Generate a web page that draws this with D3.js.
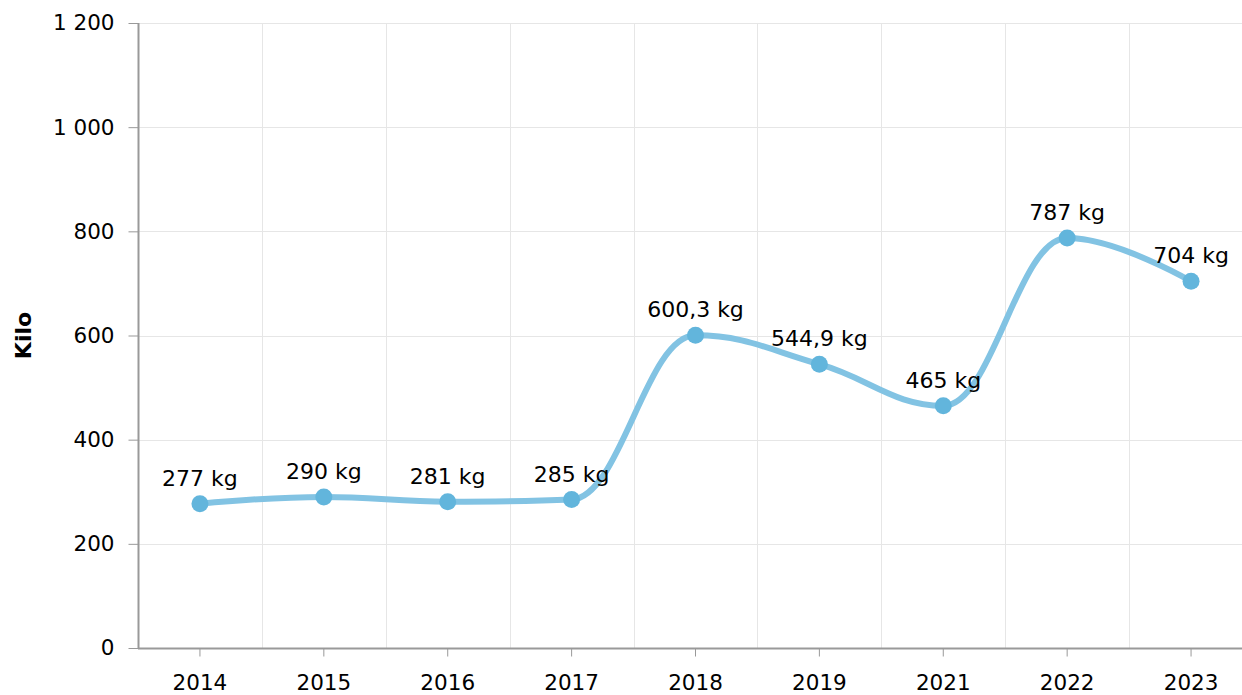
<!DOCTYPE html>
<html>
<head>
<meta charset="utf-8">
<script src="https://cdn.jsdelivr.net/npm/d3@7"></script>
<style>
  body { margin: 0; background: #fff; }
  svg { display: block; font-family: "DejaVu Sans", Verdana, sans-serif; }
</style>
</head>
<body>
<div id="chart"></div>
<script>
"use strict";

var years = ["2014", "2015", "2016", "2017", "2018", "2019", "2021", "2022", "2023"];
var kilos = [277, 290, 281, 285, 600.3, 544.9, 465, 787, 704];
var yTicks = [0, 200, 400, 600, 800, 1000, 1200];

var width = 1242,
    height = 695,
    plotLeft = 138, plotTop = 23, plotBottom = 648, plotRight = 1253;

var x = d3.scaleBand().domain(years).range([plotLeft, plotRight]),
    y = d3.scaleLinear().domain([0, 1200]).range([plotBottom, plotTop]);

var fmtTick = function(v) { return d3.format(",")(v).replace(/,/g, " "); };
var fmtLabel = function(v) { return String(v).replace(".", ",") + " kg"; };

var svg = d3.select("#chart").append("svg")
    .attr("width", width)
    .attr("height", height);

// grid
svg.append("g").selectAll("line")
    .data(yTicks)
  .enter().append("line")
    .attr("x1", plotLeft).attr("x2", width)
    .attr("y1", function(d) { return Math.round(y(d)) + 0.5; })
    .attr("y2", function(d) { return Math.round(y(d)) + 0.5; })
    .style("stroke", "#e6e6e6");

svg.append("g").selectAll("line")
    .data(years.slice(1))
  .enter().append("line")
    .attr("x1", function(d) { return Math.round(x(d)) + 0.5; })
    .attr("x2", function(d) { return Math.round(x(d)) + 0.5; })
    .attr("y1", plotTop).attr("y2", plotBottom)
    .style("stroke", "#e6e6e6");

// axes
var yAxis = svg.append("g")
    .attr("transform", "translate(" + (plotLeft + 0.5) + ",0)")
    .call(d3.axisLeft(y).tickValues(yTicks).tickFormat(fmtTick).tickSize(10).tickPadding(14));
yAxis.select(".domain").attr("d", "M0," + plotTop + "V" + plotBottom).style("stroke", "#999").style("stroke-width", 2);
yAxis.selectAll(".tick line").style("stroke", "#999");
yAxis.selectAll("text").style("font-size", "21.5px").style("fill", "#000");
yAxis.attr("font-family", null);

var xAxis = svg.append("g")
    .attr("transform", "translate(0," + (plotBottom + 0.5) + ")")
    .call(d3.axisBottom(x).tickSize(8).tickPadding(18));
xAxis.select(".domain").attr("d", "M" + plotLeft + ",0H" + width).style("stroke", "#999").style("stroke-width", 2);
xAxis.selectAll(".tick line").style("stroke", "#999");
xAxis.selectAll("text").style("font-size", "21.5px").style("fill", "#000");
xAxis.attr("font-family", null);

svg.append("text")
    .attr("transform", "translate(31," + ((plotTop + plotBottom) / 2) + ") rotate(-90)")
    .attr("text-anchor", "middle")
    .style("font-size", "22px")
    .style("font-weight", "bold")
    .text("Kilo");

// spline path, same approach as highcharts spline
var pts = kilos.map(function(v, i) { return [x(years[i]) + x.bandwidth() / 2, y(v)]; });

function splinePath(p) {
  var s = 1.5, den = s + 1, ctrl = [];
  p.forEach(function(pt, i) {
    var prev = p[i - 1], next = p[i + 1];
    if (!prev || !next) { ctrl.push(null); return; }
    var lx = (s * pt[0] + prev[0]) / den, ly = (s * pt[1] + prev[1]) / den,
        rx = (s * pt[0] + next[0]) / den, ry = (s * pt[1] + next[1]) / den,
        corr = (ry - ly) * (rx - pt[0]) / (rx - lx) + pt[1] - ry;
    ly += corr; ry += corr;
    if (ly > prev[1] && ly > pt[1]) { ly = Math.max(prev[1], pt[1]); ry = 2 * pt[1] - ly; }
    else if (ly < prev[1] && ly < pt[1]) { ly = Math.min(prev[1], pt[1]); ry = 2 * pt[1] - ly; }
    if (ry > next[1] && ry > pt[1]) { ry = Math.max(next[1], pt[1]); ly = 2 * pt[1] - ry; }
    else if (ry < next[1] && ry < pt[1]) { ry = Math.min(next[1], pt[1]); ly = 2 * pt[1] - ry; }
    ctrl.push({lx: lx, ly: ly, rx: rx, ry: ry});
  });
  var d = "M" + p[0][0] + "," + p[0][1];
  for (var i = 1; i < p.length; i++) {
    var a = ctrl[i - 1], b = ctrl[i];
    d += "C" + (a ? a.rx : p[i - 1][0]) + "," + (a ? a.ry : p[i - 1][1]) + " " +
         (b ? b.lx : p[i][0]) + "," + (b ? b.ly : p[i][1]) + " " + p[i][0] + "," + p[i][1];
  }
  return d;
}

svg.append("path")
    .attr("d", splinePath(pts))
    .style("fill", "none")
    .style("stroke", "#82c3e3")
    .style("stroke-width", 6)
    .style("stroke-linecap", "round");

svg.append("g").selectAll("circle")
    .data(kilos)
  .enter().append("circle")
    .attr("cx", function(d, i) { return x(years[i]) + x.bandwidth() / 2; })
    .attr("cy", function(d) { return y(d); })
    .attr("r", 8.5)
    .style("fill", "#62b5dc");

svg.append("g").selectAll("text")
    .data(kilos)
  .enter().append("text")
    .attr("x", function(d, i) { return x(years[i]) + x.bandwidth() / 2; })
    .attr("y", function(d) { return y(d) - 18; })
    .attr("text-anchor", "middle")
    .style("font-size", "22px")
    .style("fill", "#000")
    .text(fmtLabel);
</script>
</body>
</html>
